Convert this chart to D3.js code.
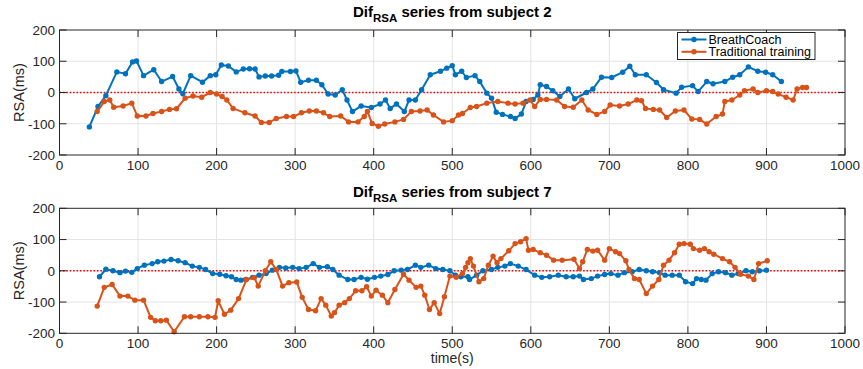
<!DOCTYPE html>
<html>
<head>
<meta charset="utf-8">
<script src="https://cdn.jsdelivr.net/npm/d3@7"></script>
<style>
  html, body { margin: 0; padding: 0; background: #fff; }
  svg { display: block; font-family: "Liberation Sans", Arial, Helvetica, sans-serif; }
</style>
</head>
<body>
<svg id="fig" width="863" height="369"></svg>
<script>
// Time (s) / RSA difference (ms) samples, one array per subject and method
const subject2BreathCoach = [
  [38,-110],[49,-45],[59,-10],[73,66],[84,60],[93,98],[98,101],[107,54],[120,73],[130,35],
  [144,51],[152,11],[157,-4],[167,54],[182,33],[192,54],[199,57],[206,88],[215,85],[225,66],
  [234,75],[242,76],[249,75],[254,50],[262,53],[270,53],[279,55],[283,67],[294,67],[301,69],
  [307,33],[317,39],[327,39],[334,25],[342,-5],[351,-8],[360,9],[366,-24],[373,-61],[384,-43],
  [397,-48],[408,-37],[415,-24],[421,-51],[429,-37],[439,-61],[445,-24],[453,-24],[461,9],[472,57],
  [485,68],[493,78],[500,86],[504,57],[512,68],[518,48],[529,54],[535,35],[544,-2],[550,-18],
  [556,-63],[564,-70],[574,-77],[580,-83],[588,-69],[594,-29],[603,-22],[609,-8],[612,25],[620,19],
  [628,6],[637,-13],[648,11],[656,-20],[671,0],[679,11],[690,49],[703,48],[717,65],[726,84],
  [733,57],[747,57],[760,32],[769,9],[785,-2],[792,17],[806,22],[813,3],[824,35],[832,28],
  [847,35],[857,49],[866,57],[877,82],[889,68],[899,65],[908,57],[919,35]
];
const subject2Traditional = [
  [48,-61],[57,-29],[64,-24],[69,-47],[81,-43],[92,-34],[99,-75],[110,-75],[119,-67],[130,-61],
  [140,-54],[149,-52],[160,-18],[170,-11],[181,-15],[192,0],[200,-5],[207,-13],[213,-24],[221,-51],
  [236,-65],[249,-75],[257,-96],[267,-96],[276,-83],[289,-77],[298,-77],[308,-65],[318,-59],[327,-59],
  [336,-65],[344,-77],[358,-75],[368,-94],[380,-94],[388,-77],[392,-61],[398,-99],[406,-108],[414,-101],
  [427,-94],[438,-86],[448,-61],[459,-59],[468,-56],[476,-72],[489,-94],[500,-90],[508,-72],[513,-67],
  [523,-48],[531,-45],[544,-34],[558,-29],[571,-34],[580,-37],[590,-34],[599,-24],[605,-45],[612,-22],
  [620,-22],[633,-24],[643,-45],[654,-47],[665,-24],[673,-56],[684,-70],[694,-61],[701,-40],[713,-43],
  [724,-37],[735,-24],[741,-26],[746,-51],[756,-54],[764,-56],[773,-80],[784,-59],[795,-56],[805,-85],
  [815,-86],[824,-101],[836,-77],[844,-69],[847,-29],[856,-24],[866,-8],[872,6],[883,11],[889,0],
  [900,6],[908,3],[915,-5],[925,-15],[934,-24],[939,11],[946,16],[951,16]
];
const subject7BreathCoach = [
  [51,-19],[59,5],[68,0],[77,-6],[84,-1],[92,-5],[99,7],[108,18],[118,23],[125,29],
  [133,31],[142,36],[151,32],[160,26],[169,15],[178,11],[186,4],[195,-9],[204,-11],[212,-16],
  [219,-19],[225,-28],[231,-30],[237,-28],[246,-21],[254,-14],[263,-9],[271,2],[280,11],[288,9],
  [297,11],[305,7],[314,11],[323,23],[331,11],[341,13],[348,4],[356,-14],[367,-28],[375,-28],
  [384,-21],[392,-27],[401,-21],[409,-17],[418,-12],[426,0],[435,2],[443,4],[453,18],[460,11],
  [470,18],[479,7],[488,4],[497,0],[504,-14],[511,-19],[520,-19],[522,-28],[531,-14],[539,0],
  [550,4],[558,11],[567,15],[574,23],[584,15],[594,4],[605,-14],[614,-21],[624,-19],[635,-14],
  [645,-19],[654,-19],[662,-17],[667,-28],[677,-25],[685,-17],[694,-12],[702,-9],[711,-14],[719,-6],
  [729,-3],[738,4],[747,0],[755,-3],[764,-6],[771,-14],[780,-14],[789,-14],[797,-35],[806,-41],
  [811,-25],[817,-28],[823,-30],[831,-9],[839,-3],[848,-6],[856,-14],[864,-9],[874,0],[882,-3],
  [891,0],[900,2]
];
const subject7Traditional = [
  [48,-113],[57,-53],[67,-44],[77,-81],[87,-81],[96,-94],[107,-94],[116,-149],[122,-160],[129,-160],
  [136,-158],[146,-195],[159,-147],[167,-147],[178,-147],[189,-147],[198,-149],[202,-96],[210,-139],[218,-126],
  [228,-89],[238,-28],[248,-22],[253,-49],[262,0],[269,29],[276,4],[284,-49],[292,-38],[302,-36],
  [309,-85],[317,-124],[326,-128],[333,-89],[339,-110],[346,-145],[350,-134],[356,-110],[363,-102],[369,-89],
  [377,-64],[385,-64],[391,-51],[397,-81],[403,-62],[411,-78],[418,-102],[427,-60],[438,-11],[445,-30],
  [454,-53],[460,-49],[465,-78],[471,-124],[477,-102],[484,-137],[490,-83],[497,-17],[505,-21],[513,-9],
  [517,11],[520,26],[523,39],[527,15],[534,-35],[540,-25],[546,18],[552,47],[557,26],[562,39],
  [572,64],[580,87],[587,93],[594,103],[597,66],[603,68],[612,58],[620,50],[629,34],[640,34],
  [655,37],[662,7],[666,29],[672,68],[679,63],[685,66],[694,34],[700,71],[708,61],[713,55],
  [721,32],[725,4],[732,-25],[738,-28],[747,-73],[755,-49],[763,-28],[769,18],[776,34],[783,58],
  [789,85],[795,87],[803,85],[807,71],[815,66],[821,71],[827,61],[833,53],[844,39],[853,29],
  [860,11],[867,-11],[877,-17],[884,-28],[890,23],[901,32]
];

const xTicks = [0, 100, 200, 300, 400, 500, 600, 700, 800, 900, 1000];
const yTicks = [-200, -100, 0, 100, 200];
const seriesNames = ["BreathCoach", "Traditional training"];
const seriesColors = ["#0072BD", "#D95319"];

const svg = d3.select("#fig");
const axisColor = "#262626";

function drawPanel(opts) {
  const x = d3.scaleLinear().domain([0, 1000]).range([59.5, 845]);
  const y = d3.scaleLinear().domain([-200, 200]).range([opts.bottom, opts.top]);
  const g = svg.append("g");

  // grid
  g.append("g").selectAll("line.gx").data(xTicks.slice(1, -1)).join("line")
    .attr("x1", d => x(d)).attr("x2", d => x(d))
    .attr("y1", y(-200)).attr("y2", y(200))
    .attr("stroke", "#e3e3e3").attr("stroke-width", 1);
  g.append("g").selectAll("line.gy").data(yTicks.slice(1, -1)).join("line")
    .attr("x1", x(0)).attr("x2", x(1000))
    .attr("y1", d => y(d)).attr("y2", d => y(d))
    .attr("stroke", "#e3e3e3").attr("stroke-width", 1);

  // zero reference
  g.append("line")
    .attr("x1", x(0)).attr("x2", x(1000))
    .attr("y1", y(0)).attr("y2", y(0))
    .attr("stroke", "#ff0000").attr("stroke-width", 1.6)
    .attr("stroke-dasharray", "1.6 1.8");

  // series
  const line = d3.line().x(d => x(d[0])).y(d => y(d[1]));
  opts.series.forEach((data, i) => {
    const c = seriesColors[i];
    g.append("path").datum(data)
      .attr("d", line).attr("fill", "none")
      .attr("stroke", c).attr("stroke-width", 2).attr("stroke-linejoin", "round");
    g.append("g").selectAll("circle").data(data).join("circle")
      .attr("cx", d => x(d[0])).attr("cy", d => y(d[1]))
      .attr("r", 2.7).attr("fill", c);
  });

  // axes box with inward ticks
  const tickLen = 7;
  const axes = g.append("g").attr("stroke", axisColor).attr("stroke-width", 1);
  axes.append("rect")
    .attr("x", x(0)).attr("y", y(200))
    .attr("width", x(1000) - x(0)).attr("height", y(-200) - y(200))
    .attr("fill", "none");
  xTicks.forEach(t => {
    axes.append("line").attr("x1", x(t)).attr("x2", x(t))
      .attr("y1", y(-200)).attr("y2", y(-200) - tickLen);
    axes.append("line").attr("x1", x(t)).attr("x2", x(t))
      .attr("y1", y(200)).attr("y2", y(200) + tickLen);
  });
  yTicks.forEach(t => {
    axes.append("line").attr("x1", x(0)).attr("x2", x(0) + tickLen)
      .attr("y1", y(t)).attr("y2", y(t));
    axes.append("line").attr("x1", x(1000)).attr("x2", x(1000) - tickLen)
      .attr("y1", y(t)).attr("y2", y(t));
  });

  // tick labels
  g.append("g").selectAll("text").data(xTicks).join("text")
    .attr("x", d => x(d)).attr("y", y(-200) + 14.5)
    .attr("text-anchor", "middle").attr("font-size", 13.5).attr("fill", axisColor)
    .text(d => d);
  g.append("g").selectAll("text").data(yTicks).join("text")
    .attr("x", x(0) - 4.5).attr("y", d => y(d)).attr("dy", "0.36em")
    .attr("text-anchor", "end").attr("font-size", 13.5).attr("fill", axisColor)
    .text(d => d);

  // y label
  const ymid = (y(200) + y(-200)) / 2;
  g.append("text")
    .attr("transform", `translate(23.5,${ymid}) rotate(-90)`)
    .attr("text-anchor", "middle").attr("font-size", 14.5).attr("fill", axisColor)
    .text("RSA(ms)");

  // title with subscript
  const title = g.append("text")
    .attr("x", (x(0) + x(1000)) / 2).attr("y", opts.titleY)
    .attr("text-anchor", "middle").attr("font-size", 15).attr("font-weight", "bold")
    .attr("fill", "#000");
  title.append("tspan").text("Dif");
  title.append("tspan").attr("font-size", 11.5).attr("dy", 5).text("RSA");
  title.append("tspan").attr("dy", -5).text(" series from subject " + opts.subject);

  if (opts.xLabel) {
    g.append("text")
      .attr("x", (x(0) + x(1000)) / 2).attr("y", y(-200) + 30)
      .attr("text-anchor", "middle").attr("font-size", 14).attr("fill", axisColor)
      .text("time(s)");
  }

  if (opts.legend) {
    const lg = g.append("g");
    lg.append("rect")
      .attr("x", 677.5).attr("y", 32.5).attr("width", 137.5).attr("height", 27)
      .attr("fill", "#fff").attr("stroke", axisColor).attr("stroke-width", 1);
    seriesNames.forEach((name, i) => {
      const ly = 39.5 + i * 12.3;
      lg.append("line").attr("x1", 681.5).attr("x2", 706.5)
        .attr("y1", ly).attr("y2", ly)
        .attr("stroke", seriesColors[i]).attr("stroke-width", 2);
      lg.append("circle").attr("cx", 694).attr("cy", ly).attr("r", 2.7)
        .attr("fill", seriesColors[i]);
      lg.append("text").attr("x", 708.5).attr("y", ly).attr("dy", "0.36em")
        .attr("font-size", 12.5).attr("fill", "#000").text(name);
    });
  }
}

drawPanel({
  top: 30, bottom: 155, titleY: 17, subject: 2,
  series: [subject2BreathCoach, subject2Traditional], legend: true, xLabel: false
});
drawPanel({
  top: 208.3, bottom: 333.3, titleY: 197, subject: 7,
  series: [subject7BreathCoach, subject7Traditional], legend: false, xLabel: true
});
</script>
</body>
</html>
